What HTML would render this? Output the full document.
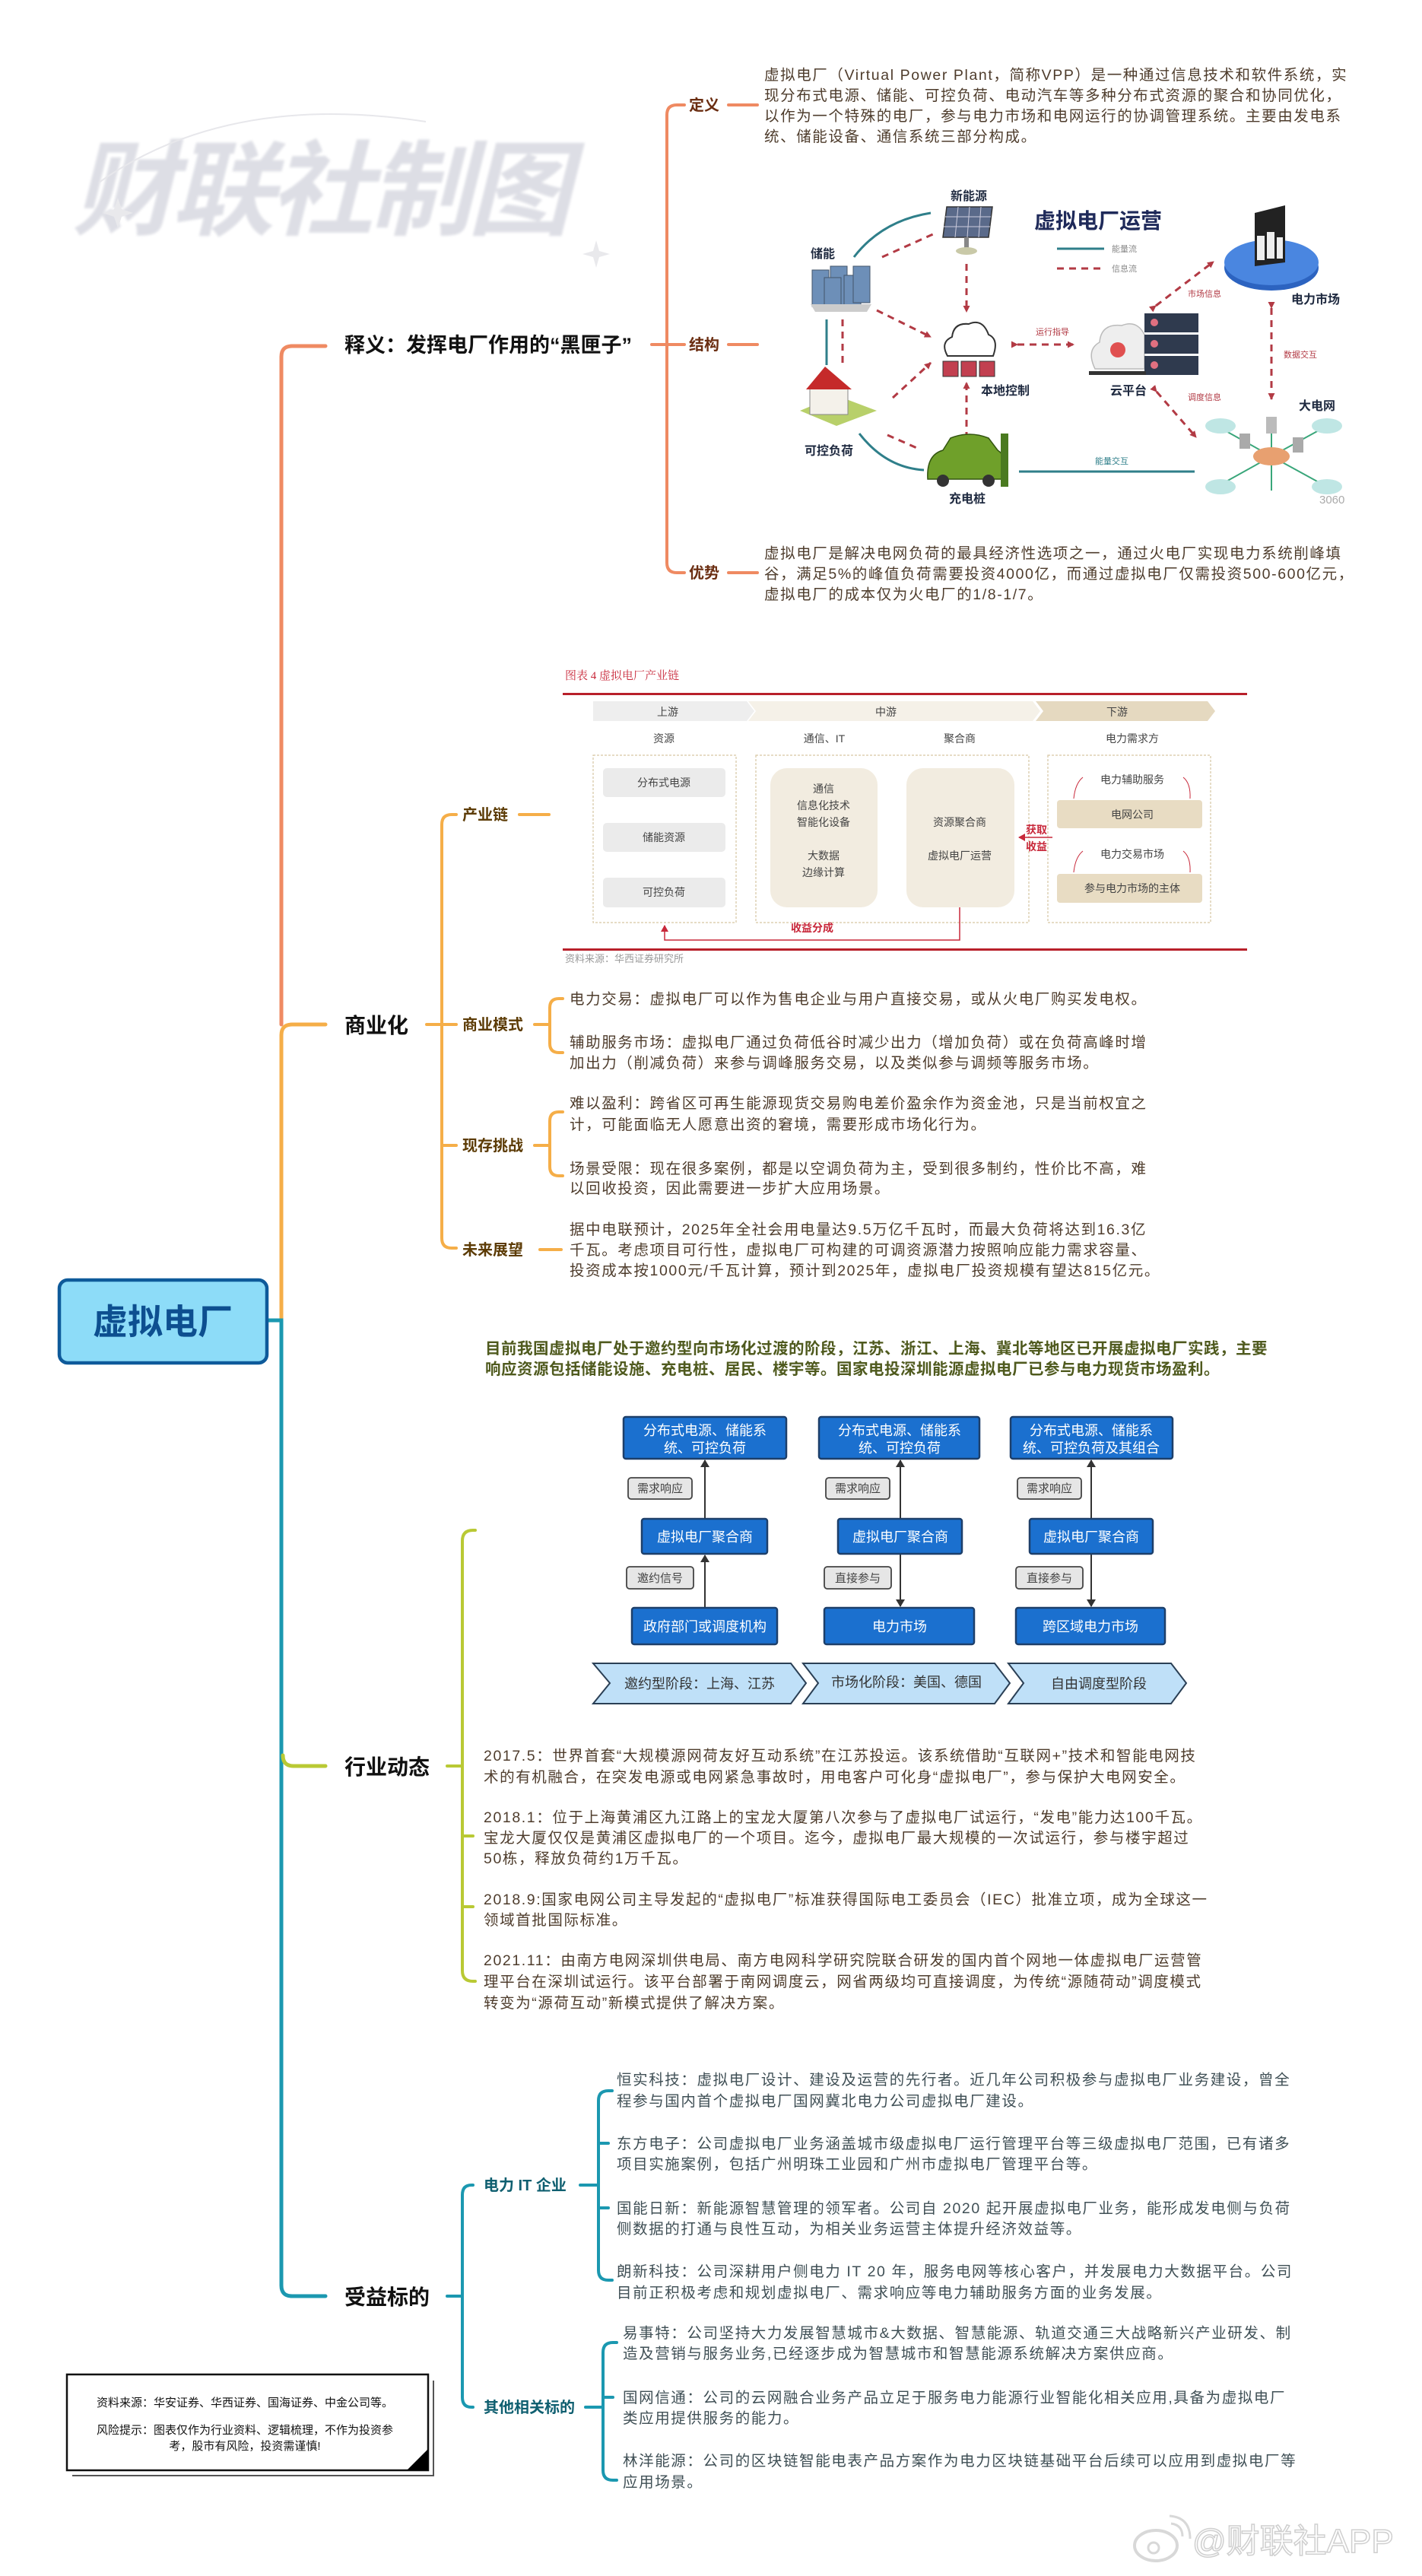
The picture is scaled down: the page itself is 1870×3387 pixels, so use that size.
<!DOCTYPE html>
<html lang="zh">
<head>
<meta charset="utf-8">
<style>
html,body{margin:0;padding:0;background:#fff;}
body{width:1870px;height:3387px;position:relative;overflow:hidden;font-family:"Liberation Sans","Noto Sans CJK SC",sans-serif;}
svg{position:absolute;left:0;top:0;}
text{font-family:"Liberation Sans","Noto Sans CJK SC",sans-serif;}
.serif{font-family:"Liberation Serif","Noto Serif CJK SC",serif;}
</style>
</head>
<body>
<svg width="1870" height="3387" viewBox="0 0 1870 3387" xmlns="http://www.w3.org/2000/svg">
<defs>
<marker id="ah" markerWidth="10" markerHeight="12" refX="9" refY="6" orient="auto" markerUnits="userSpaceOnUse">
<path d="M0,0 L10,6 L0,12 z" fill="#333"/></marker>
<marker id="rh" markerWidth="9" markerHeight="10" refX="8" refY="5" orient="auto" markerUnits="userSpaceOnUse">
<path d="M0,0 L9,5 L0,10 z" fill="#c8283a"/></marker>
<marker id="dh" markerWidth="9" markerHeight="9" refX="8" refY="4.5" orient="auto" markerUnits="userSpaceOnUse">
<path d="M0,0 L9,4.5 L0,9 z" fill="#b23a44"/></marker>
<filter id="blur"><feGaussianBlur stdDeviation="1.5"/></filter>
</defs>

<g opacity="0.95">
<text x="95" y="298" font-size="136" font-weight="bold" font-style="italic" fill="#dcdde4" letter-spacing="-6" filter="url(#blur)">财联社制图</text>
<path d="M130 240 Q 300 120 560 160" fill="none" stroke="#e6e6ea" stroke-width="2"/>
<path d="M150 275 L155 260 L160 275 L175 280 L160 285 L155 300 L150 285 L135 280 Z" fill="#e8e8ec"/>
<path d="M780 330 L784 316 L788 330 L802 334 L788 338 L784 352 L780 338 L766 334 Z" fill="#e8e8ec"/>
</g>

<g fill="none" stroke-linecap="round">
<path d="M428 455 H384 Q370 455 370 469 V1347" stroke="#ef8a62" stroke-width="5"/>
<path d="M428 1347 H384 Q370 1347 370 1361 V1734" stroke="#f5ae48" stroke-width="5"/>
<path d="M352 1736 H370 V3005 Q370 3019 384 3019 H428" stroke="#1b98b0" stroke-width="5"/>
<path d="M372 2308 Q372 2322 386 2322 H428" stroke="#b9c934" stroke-width="5"/>

<g stroke="#ef8a62" stroke-width="4">
<path d="M857 453 H900"/>
<path d="M900 138 H890 Q877 138 877 151 V740 Q877 753 890 753 H900"/>
<path d="M958 138 H996"/><path d="M958 453 H996"/><path d="M958 753 H996"/>
</g>
<g stroke="#f5ae48" stroke-width="4">
<path d="M561 1347 H600"/>
<path d="M600 1071 H594 Q581 1071 581 1084 V1628 Q581 1641 594 1641 H600"/>
<path d="M581 1506 H600"/>
<path d="M683 1071 H722"/>
<path d="M703 1347 H723"/>
<path d="M740 1313 H735 Q723 1313 723 1325 V1372 Q723 1384 735 1384 H740"/>
<path d="M703 1506 H723"/>
<path d="M740 1462 H735 Q723 1462 723 1474 V1534 Q723 1546 735 1546 H740"/>
<path d="M710 1643 H738"/>
</g>
<g stroke="#b9c934" stroke-width="4">
<path d="M588 2322 H608"/>
<path d="M625 2012 H622 Q608 2012 608 2026 V2591 Q608 2605 622 2605 H625"/>
<path d="M608 2414 H622"/>
<path d="M608 2507 H622"/>
</g>
<g stroke="#1b98b0" stroke-width="4">
<path d="M588 3019 H608"/>
<path d="M622 2873 H620 Q608 2873 608 2886 V3152 Q608 3165 620 3165 H622"/>
<path d="M763 2873 H787"/>
<path d="M805 2749 H800 Q787 2749 787 2762 V2985 Q787 2998 800 2998 H805"/>
<path d="M787 2818 H800"/><path d="M787 2903 H800"/>
<path d="M770 3165 H793"/>
<path d="M811 3080 H806 Q793 3080 793 3093 V3248 Q793 3261 806 3261 H811"/>
<path d="M793 3152 H806"/>
</g>
</g>

<rect x="78" y="1683" width="273" height="109" rx="11" fill="#8ddcf8" stroke="#0e5a9a" stroke-width="4.5"/>
<text x="214" y="1754" font-size="46" font-weight="bold" fill="#0d4f90" text-anchor="middle">虚拟电厂</text>

<g font-weight="bold" fill="#111">
<text x="453" y="463" font-size="27">释义：发挥电厂作用的“黑匣子”</text>
<text x="453" y="1358" font-size="28">商业化</text>
<text x="453" y="2333" font-size="28">行业动态</text>
<text x="453" y="3030" font-size="28">受益标的</text>
</g>
<g font-weight="bold" font-size="20" fill="#6b2e12">
<text x="906" y="145">定义</text>
<text x="906" y="460">结构</text>
<text x="906" y="760">优势</text>
</g>
<g font-weight="bold" font-size="20" fill="#5c3b05">
<text x="608" y="1078">产业链</text>
<text x="608" y="1354">商业模式</text>
<text x="608" y="1513">现存挑战</text>
<text x="608" y="1650">未来展望</text>
</g>
<g font-weight="bold" font-size="20" fill="#0f5f70">
<text x="636" y="2880">电力 IT 企业</text>
<text x="636" y="3172">其他相关标的</text>
</g>

<g font-size="19.5" fill="#4e3c2c" letter-spacing="1.6">
<text x="1005" y="105">虚拟电厂（Virtual Power Plant，简称VPP）是一种通过信息技术和软件系统，实</text>
<text x="1005" y="132">现分布式电源、储能、可控负荷、电动汽车等多种分布式资源的聚合和协同优化，</text>
<text x="1005" y="159">以作为一个特殊的电厂，参与电力市场和电网运行的协调管理系统。主要由发电系</text>
<text x="1005" y="186">统、储能设备、通信系统三部分构成。</text>
<text x="1005" y="734">虚拟电厂是解决电网负荷的最具经济性选项之一，通过火电厂实现电力系统削峰填</text>
<text x="1005" y="761">谷，满足5%的峰值负荷需要投资4000亿，而通过虚拟电厂仅需投资500-600亿元，</text>
<text x="1005" y="788">虚拟电厂的成本仅为火电厂的1/8-1/7。</text>

<text x="749" y="1320">电力交易：虚拟电厂可以作为售电企业与用户直接交易，或从火电厂购买发电权。</text>
<text x="749" y="1377">辅助服务市场：虚拟电厂通过负荷低谷时减少出力（增加负荷）或在负荷高峰时增</text>
<text x="749" y="1404">加出力（削减负荷）来参与调峰服务交易，以及类似参与调频等服务市场。</text>
<text x="749" y="1457">难以盈利：跨省区可再生能源现货交易购电差价盈余作为资金池，只是当前权宜之</text>
<text x="749" y="1485">计，可能面临无人愿意出资的窘境，需要形成市场化行为。</text>
<text x="749" y="1543">场景受限：现在很多案例，都是以空调负荷为主，受到很多制约，性价比不高，难</text>
<text x="749" y="1569">以回收投资，因此需要进一步扩大应用场景。</text>
<text x="749" y="1623">据中电联预计，2025年全社会用电量达9.5万亿千瓦时，而最大负荷将达到16.3亿</text>
<text x="749" y="1650">千瓦。考虑项目可行性，虚拟电厂可构建的可调资源潜力按照响应能力需求容量、</text>
<text x="749" y="1677">投资成本按1000元/千瓦计算，预计到2025年，虚拟电厂投资规模有望达815亿元。</text>

<text x="636" y="2315">2017.5：世界首套“大规模源网荷友好互动系统”在江苏投运。该系统借助“互联网+”技术和智能电网技</text>
<text x="636" y="2343">术的有机融合，在突发电源或电网紧急事故时，用电客户可化身“虚拟电厂”，参与保护大电网安全。</text>
<text x="636" y="2396">2018.1：位于上海黄浦区九江路上的宝龙大厦第八次参与了虚拟电厂试运行，“发电”能力达100千瓦。</text>
<text x="636" y="2423">宝龙大厦仅仅是黄浦区虚拟电厂的一个项目。迄今，虚拟电厂最大规模的一次试运行，参与楼宇超过</text>
<text x="636" y="2450">50栋，释放负荷约1万千瓦。</text>
<text x="636" y="2504">2018.9:国家电网公司主导发起的“虚拟电厂”标准获得国际电工委员会（IEC）批准立项，成为全球这一</text>
<text x="636" y="2531">领域首批国际标准。</text>
<text x="636" y="2584">2021.11：由南方电网深圳供电局、南方电网科学研究院联合研发的国内首个网地一体虚拟电厂运营管</text>
<text x="636" y="2612">理平台在深圳试运行。该平台部署于南网调度云，网省两级均可直接调度，为传统“源随荷动”调度模式</text>
<text x="636" y="2640">转变为“源荷互动”新模式提供了解决方案。</text>
</g>
<g font-size="19.5" fill="#3f4f55" letter-spacing="1.6">
<text x="811" y="2741">恒实科技：虚拟电厂设计、建设及运营的先行者。近几年公司积极参与虚拟电厂业务建设，曾全</text>
<text x="811" y="2769">程参与国内首个虚拟电厂国网冀北电力公司虚拟电厂建设。</text>
<text x="811" y="2825">东方电子：公司虚拟电厂业务涵盖城市级虚拟电厂运行管理平台等三级虚拟电厂范围，已有诸多</text>
<text x="811" y="2852">项目实施案例，包括广州明珠工业园和广州市虚拟电厂管理平台等。</text>
<text x="811" y="2910">国能日新：新能源智慧管理的领军者。公司自 2020 起开展虚拟电厂业务，能形成发电侧与负荷</text>
<text x="811" y="2937">侧数据的打通与良性互动，为相关业务运营主体提升经济效益等。</text>
<text x="811" y="2993">朗新科技：公司深耕用户侧电力 IT 20 年，服务电网等核心客户，并发展电力大数据平台。公司</text>
<text x="811" y="3021">目前正积极考虑和规划虚拟电厂、需求响应等电力辅助服务方面的业务发展。</text>
<text x="819" y="3074">易事特：公司坚持大力发展智慧城市&amp;大数据、智慧能源、轨道交通三大战略新兴产业研发、制</text>
<text x="819" y="3101">造及营销与服务业务,已经逐步成为智慧城市和智慧能源系统解决方案供应商。</text>
<text x="819" y="3159">国网信通：公司的云网融合业务产品立足于服务电力能源行业智能化相关应用,具备为虚拟电厂</text>
<text x="819" y="3186">类应用提供服务的能力。</text>
<text x="819" y="3242">林洋能源：公司的区块链智能电表产品方案作为电力区块链基础平台后续可以应用到虚拟电厂等</text>
<text x="819" y="3270">应用场景。</text>
</g>
<g font-size="20.5" font-weight="bold" fill="#4f5a1e" letter-spacing="0.5">
<text x="638" y="1780">目前我国虚拟电厂处于邀约型向市场化过渡的阶段，江苏、浙江、上海、冀北等地区已开展虚拟电厂实践，主要</text>
<text x="638" y="1807">响应资源包括储能设施、充电桩、居民、楼宇等。国家电投深圳能源虚拟电厂已参与电力现货市场盈利。</text>
</g>

<g>
<g fill="none" stroke="#2f7f8a" stroke-width="3">
<path d="M1123 338 Q1160 290 1224 280"/>
<path d="M1087 420 V480"/>
<path d="M1130 570 Q1165 615 1215 618"/>
<path d="M1340 620 H1571"/>
<path d="M1390 327 H1452"/>
</g>
<g fill="none" stroke="#b23a44" stroke-width="3" stroke-dasharray="9 7">
<path d="M1160 338 L1229 307"/>
<path d="M1271 347 V410" marker-end="url(#dh)"/>
<path d="M1153 408 L1224 443" marker-end="url(#dh)"/>
<path d="M1108 420 V480"/>
<path d="M1174 523 L1224 477" marker-end="url(#dh)"/>
<path d="M1271 577 V503" marker-end="url(#dh)"/>
<path d="M1167 572 L1208 590"/>
<path d="M1338 453 H1412" marker-end="url(#dh)" marker-start="url(#dh)"/>
<path d="M1520 402 L1596 344" marker-end="url(#dh)" marker-start="url(#dh)"/>
<path d="M1672 405 V525" marker-end="url(#dh)" marker-start="url(#dh)"/>
<path d="M1521 515 L1573 575" marker-end="url(#dh)" marker-start="url(#dh)"/>
<path d="M1390 353 H1452"/>
</g>
<text x="1360" y="300" font-size="28" font-weight="bold" fill="#1f2a5a">虚拟电厂运营</text>
<g font-size="11" fill="#888" class="serif">
<text x="1462" y="331">能量流</text><text x="1462" y="357">信息流</text>
<text x="1362" y="440" fill="#b23a44">运行指导</text>
<text x="1562" y="390" fill="#b23a44">市场信息</text>
<text x="1688" y="470" fill="#b23a44">数据交互</text>
<text x="1562" y="526" fill="#b23a44">调度信息</text>
<text x="1440" y="610" fill="#2f7f8a">能量交互</text>
</g>
<g font-size="16" font-weight="bold" fill="#1f2a40">
<text x="1250" y="263">新能源</text>
<text x="1066" y="339">储能</text>
<text x="1698" y="399">电力市场</text>
<text x="1290" y="519">本地控制</text>
<text x="1460" y="519">云平台</text>
<text x="1058" y="598">可控负荷</text>
<text x="1248" y="661">充电桩</text>
<text x="1708" y="539">大电网</text>
</g>
<polygon points="1245,272 1305,272 1300,312 1240,312" fill="#5a6a8a" stroke="#333" stroke-width="1.5"/>
<path d="M1260 272 L1256 312 M1275 272 L1272 312 M1290 272 L1287 312 M1243 285 H1303 M1241 298 H1302" stroke="#ccd" stroke-width="1"/>
<rect x="1268" y="312" width="6" height="14" fill="#888"/>
<ellipse cx="1271" cy="330" rx="14" ry="5" fill="#c9c9a8"/>
<g fill="#6d8fb8" stroke="#44556a" stroke-width="1">
<rect x="1068" y="355" width="22" height="48"/><rect x="1092" y="350" width="22" height="52"/>
<rect x="1084" y="365" width="22" height="42"/><rect x="1110" y="362" width="22" height="42"/><rect x="1122" y="350" width="22" height="48"/>
</g>
<polygon points="1066,400 1146,400 1140,410 1072,410" fill="#ccc"/>
<path d="M1246 468 Q1236 450 1252 443 Q1254 424 1274 426 Q1292 418 1300 440 Q1314 446 1306 468 Z" fill="#fff" stroke="#333" stroke-width="2"/>
<g fill="#c24050" stroke="#333" stroke-width="1"><rect x="1240" y="475" width="20" height="20"/><rect x="1264" y="475" width="20" height="20"/><rect x="1288" y="475" width="20" height="20"/></g>
<path d="M1440 485 Q1428 460 1446 450 Q1448 425 1475 428 Q1495 420 1505 440 V485 Z" fill="#eee" stroke="#bbb" stroke-width="1.5"/>
<circle cx="1470" cy="460" r="10" fill="#e05050"/>
<g fill="#2f3a4e"><rect x="1505" y="412" width="71" height="25"/><rect x="1505" y="440" width="71" height="25"/><rect x="1505" y="468" width="71" height="25"/></g>
<g fill="#e07080"><circle cx="1518" cy="424" r="5"/><circle cx="1518" cy="452" r="5"/><circle cx="1518" cy="480" r="5"/></g>
<rect x="1432" y="488" width="75" height="5" fill="#333"/>
<polygon points="1052,540 1100,520 1153,540 1100,560" fill="#b8d06a"/>
<rect x="1065" y="510" width="50" height="35" fill="#f4f1ea" stroke="#888"/>
<polygon points="1060,512 1085,482 1120,512" fill="#c52a2a"/>
<path d="M1220 630 Q1218 598 1240 592 L1250 576 Q1275 566 1300 576 L1312 592 Q1325 600 1322 630 Z" fill="#6fa02a" stroke="#335510" stroke-width="1.5"/>
<circle cx="1240" cy="632" r="8" fill="#333"/><circle cx="1300" cy="632" r="8" fill="#333"/>
<rect x="1316" y="570" width="10" height="70" fill="#4a7a20"/>
<ellipse cx="1672" cy="352" rx="62" ry="30" fill="#2c63c0"/>
<ellipse cx="1672" cy="345" rx="62" ry="30" fill="#4a86e0"/>
<polygon points="1650,280 1690,270 1690,345 1650,350" fill="#222"/>
<rect x="1653" y="310" width="10" height="32" fill="#eee"/><rect x="1666" y="305" width="10" height="35" fill="#eee"/><rect x="1679" y="312" width="8" height="28" fill="#eee"/>
<g stroke="#39a67a" stroke-width="2" fill="none">
<path d="M1600 560 L1672 600 L1745 560 M1600 640 L1672 600 L1745 640 M1672 555 V645"/>
</g>
<g fill="#bfe6e4"><ellipse cx="1605" cy="560" rx="20" ry="10"/><ellipse cx="1745" cy="560" rx="20" ry="10"/><ellipse cx="1605" cy="640" rx="20" ry="10"/><ellipse cx="1745" cy="640" rx="20" ry="10"/></g>
<ellipse cx="1672" cy="600" rx="24" ry="12" fill="#e8a070"/>
<rect x="1630" y="570" width="14" height="20" fill="#aaa"/><rect x="1700" y="575" width="14" height="20" fill="#aaa"/><rect x="1665" y="548" width="14" height="22" fill="#bbb"/>
<text x="1735" y="662" font-size="15" fill="#aaa">3060</text>
</g>

<g class="serif">
<text x="743" y="893" font-size="15" fill="#c8283a" class="serif">图表 4 虚拟电厂产业链</text>
<rect x="740" y="911" width="900" height="3" fill="#b8202a"/>
<polygon points="780,922 982,922 992,935 982,948 780,948" fill="#eeeeee"/>
<polygon points="984,922 1358,922 1368,935 1358,948 984,948 994,935" fill="#f5f1e8"/>
<polygon points="1362,922 1588,922 1598,935 1588,948 1362,948 1372,935" fill="#e5d9c0"/>
<g font-size="14" fill="#444" text-anchor="middle">
<text x="878" y="941">上游</text><text x="1165" y="941">中游</text><text x="1469" y="941">下游</text>
<text x="873" y="976">资源</text><text x="1084" y="976">通信、IT</text><text x="1262" y="976">聚合商</text><text x="1489" y="976">电力需求方</text>
</g>
<g fill="none" stroke="#d6c6a2" stroke-width="1.2" stroke-dasharray="3 2">
<rect x="780" y="993" width="188" height="220"/><rect x="994" y="993" width="359" height="220"/><rect x="1378" y="993" width="214" height="220"/>
</g>
<g fill="#ebebeb"><rect x="793" y="1010" width="161" height="38" rx="5"/><rect x="793" y="1082" width="161" height="38" rx="5"/><rect x="793" y="1154" width="161" height="39" rx="5"/></g>
<rect x="1013" y="1010" width="141" height="183" rx="22" fill="#f2ece0"/>
<rect x="1192" y="1010" width="142" height="183" rx="22" fill="#f2ece0"/>
<rect x="1390" y="1052" width="191" height="37" rx="4" fill="#e8dcc3"/>
<rect x="1390" y="1149" width="191" height="38" rx="4" fill="#e8dcc3"/>
<g font-size="14" fill="#444" text-anchor="middle">
<text x="873" y="1034">分布式电源</text><text x="873" y="1106">储能资源</text><text x="873" y="1178">可控负荷</text>
<text x="1083" y="1042">通信</text><text x="1083" y="1064">信息化技术</text><text x="1083" y="1086">智能化设备</text>
<text x="1083" y="1130">大数据</text><text x="1083" y="1152">边缘计算</text>
<text x="1262" y="1086">资源聚合商</text><text x="1262" y="1130">虚拟电厂运营</text>
<text x="1489" y="1030">电力辅助服务</text><text x="1489" y="1076">电网公司</text>
<text x="1489" y="1128">电力交易市场</text><text x="1489" y="1173">参与电力市场的主体</text>
</g>
<g fill="none" stroke="#c8283a" stroke-width="1">
<path d="M1412 1050 Q1414 1030 1424 1022"/><path d="M1556 1022 Q1566 1030 1565 1050"/>
<path d="M1412 1147 Q1414 1127 1424 1119"/><path d="M1556 1119 Q1566 1127 1565 1147"/>
</g>
<g font-size="14" font-weight="bold" fill="#c8283a" text-anchor="middle">
<text x="1363" y="1096">获取</text><text x="1363" y="1118">收益</text>
<text x="1068" y="1225">收益分成</text>
</g>
<path d="M1384 1101 H1340" stroke="#c8283a" stroke-width="1.5" marker-end="url(#rh)"/>
<path d="M1262 1193 V1236 H874 V1217" fill="none" stroke="#c8283a" stroke-width="1.5" marker-end="url(#rh)"/>
<rect x="740" y="1247" width="900" height="3" fill="#b8202a"/>
<text x="743" y="1265" font-size="13" fill="#9a9a9a">资料来源：华西证券研究所</text>
</g>

<g>
<g fill="none" stroke="#333" stroke-width="2">
<path d="M927 1997 V1920" marker-end="url(#ah)"/>
<path d="M927 2114 V2045" marker-end="url(#ah)"/>
<path d="M1184 1997 V1920" marker-end="url(#ah)"/>
<path d="M1184 2043 V2112" marker-end="url(#ah)"/>
<path d="M1435 1997 V1920" marker-end="url(#ah)"/>
<path d="M1435 2043 V2112" marker-end="url(#ah)"/>
</g>
<g fill="#1b70cf" stroke="#1d3f6a" stroke-width="2.5">
<rect x="820" y="1863" width="214" height="55" rx="3"/>
<rect x="1077" y="1863" width="211" height="55" rx="3"/>
<rect x="1329" y="1863" width="213" height="55" rx="3"/>
<rect x="844" y="1997" width="165" height="46" rx="3"/>
<rect x="1102" y="1997" width="163" height="46" rx="3"/>
<rect x="1354" y="1997" width="162" height="46" rx="3"/>
<rect x="831" y="2114" width="191" height="48" rx="3"/>
<rect x="1084" y="2114" width="197" height="48" rx="3"/>
<rect x="1336" y="2114" width="196" height="48" rx="3"/>
</g>
<g font-size="18" fill="#fff" text-anchor="middle">
<text x="927" y="1887">分布式电源、储能系</text><text x="927" y="1910">统、可控负荷</text>
<text x="1183" y="1887">分布式电源、储能系</text><text x="1183" y="1910">统、可控负荷</text>
<text x="1435" y="1887">分布式电源、储能系</text><text x="1435" y="1910">统、可控负荷及其组合</text>
<text x="927" y="2027">虚拟电厂聚合商</text><text x="1184" y="2027">虚拟电厂聚合商</text><text x="1435" y="2027">虚拟电厂聚合商</text>
<text x="927" y="2145">政府部门或调度机构</text><text x="1183" y="2145">电力市场</text><text x="1434" y="2145">跨区域电力市场</text>
</g>
<g fill="#e6e6e6" stroke="#444" stroke-width="1.8">
<rect x="826" y="1943" width="84" height="28" rx="4"/><rect x="1086" y="1943" width="84" height="28" rx="4"/><rect x="1338" y="1943" width="84" height="28" rx="4"/>
<rect x="824" y="2060" width="88" height="29" rx="4"/><rect x="1084" y="2060" width="88" height="29" rx="4"/><rect x="1336" y="2060" width="88" height="29" rx="4"/>
</g>
<g font-size="15" fill="#444" text-anchor="middle">
<text x="868" y="1962">需求响应</text><text x="1128" y="1962">需求响应</text><text x="1380" y="1962">需求响应</text>
<text x="868" y="2080">邀约信号</text><text x="1128" y="2080">直接参与</text><text x="1380" y="2080">直接参与</text>
</g>
<g fill="#bfe0f8" stroke="#2a3f55" stroke-width="2">
<polygon points="780,2187 1040,2187 1060,2213 1040,2240 780,2240 802,2213"/>
<polygon points="1056,2187 1308,2187 1328,2213 1308,2240 1056,2240 1076,2213"/>
<polygon points="1326,2187 1540,2187 1560,2213 1540,2240 1326,2240 1346,2213"/>
</g>
<g font-size="18" fill="#333" text-anchor="middle">
<text x="920" y="2220">邀约型阶段：上海、江苏</text>
<text x="1192" y="2218">市场化阶段：美国、德国</text>
<text x="1445" y="2220">自由调度型阶段</text>
</g>
</g>

<path d="M570 3130 V3255 H95" fill="none" stroke="#555" stroke-width="2"/>
<rect x="88" y="3122" width="475" height="126" fill="#fff" stroke="#111" stroke-width="2.5"/>
<polygon points="535,3248 563,3220 563,3248" fill="#000"/>
<g font-size="15" fill="#111" text-anchor="middle">
<text x="322" y="3164">资料来源：华安证券、华西证券、国海证券、中金公司等。</text>
<text x="322" y="3200">风险提示：图表仅作为行业资料、逻辑梳理，不作为投资参</text>
<text x="322" y="3221">考，股市有风险，投资需谨慎!</text>
</g>

<g>
<ellipse cx="1520" cy="3347" rx="28" ry="20" fill="none" stroke="#d8d8d8" stroke-width="4"/>
<circle cx="1517" cy="3350" r="7" fill="none" stroke="#d8d8d8" stroke-width="3"/>
<path d="M1540 3318 Q1555 3320 1555 3335 M1538 3308 Q1565 3310 1565 3338" fill="none" stroke="#d8d8d8" stroke-width="3"/>
<text x="1568" y="3356" font-size="44" fill="#fff" stroke="#cfcfcf" stroke-width="1.5">@财联社APP</text>
</g>
</svg>
</body>
</html>
